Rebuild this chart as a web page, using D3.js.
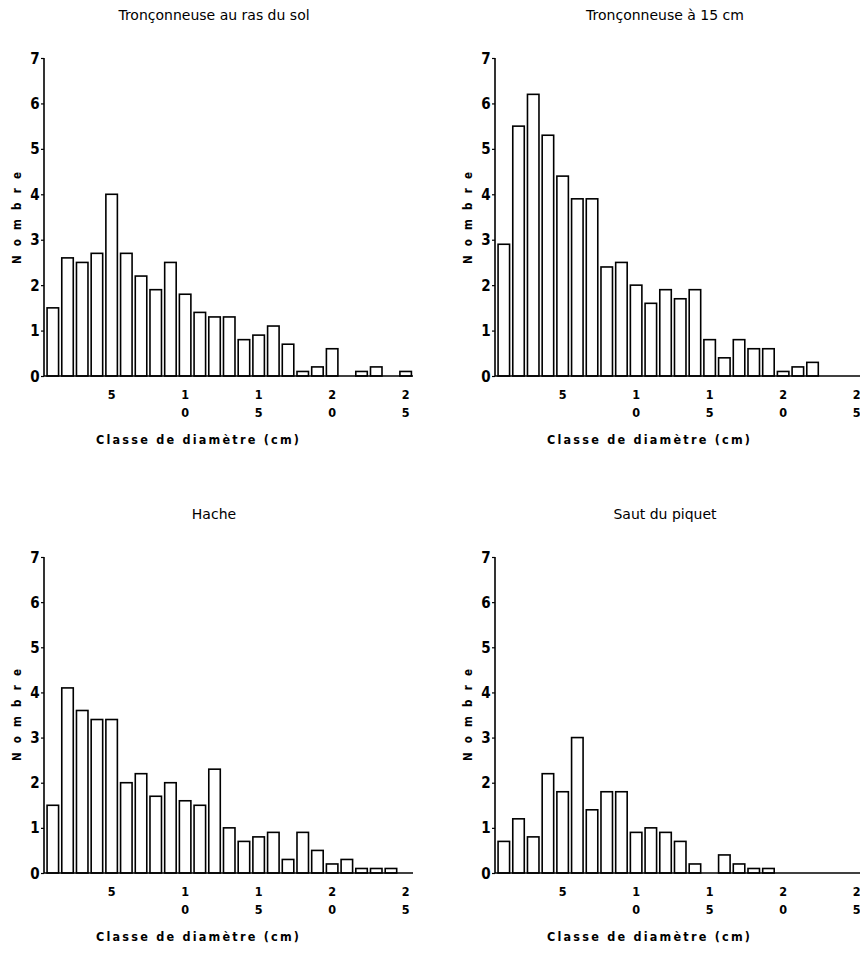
<!DOCTYPE html>
<html>
<head>
<meta charset="utf-8">
<script src="https://cdn.jsdelivr.net/npm/d3@7"></script>
<style>
  body { margin: 0; background: #fff; }
  svg { display: block; }
</style>
</head>
<body>
<div id="chart"></div>
<script>
// diameter classes 1..25 cm
const classes = d3.range(1, 26)

const solValues    = [1.5, 2.6, 2.5, 2.7, 4.0, 2.7, 2.2, 1.9, 2.5, 1.8, 1.4, 1.3, 1.3, 0.8, 0.9, 1.1, 0.7, 0.1, 0.2, 0.6, 0, 0.1, 0.2, 0, 0.1]
const quinzeValues = [2.9, 5.5, 6.2, 5.3, 4.4, 3.9, 3.9, 2.4, 2.5, 2.0, 1.6, 1.9, 1.7, 1.9, 0.8, 0.4, 0.8, 0.6, 0.6, 0.1, 0.2, 0.3, 0, 0, 0]
const hacheValues  = [1.5, 4.1, 3.6, 3.4, 3.4, 2.0, 2.2, 1.7, 2.0, 1.6, 1.5, 2.3, 1.0, 0.7, 0.8, 0.9, 0.3, 0.9, 0.5, 0.2, 0.3, 0.1, 0.1, 0.1, 0]
const piquetValues = [0.7, 1.2, 0.8, 2.2, 1.8, 3.0, 1.4, 1.8, 1.8, 0.9, 1.0, 0.9, 0.7, 0.2, 0, 0.4, 0.2, 0.1, 0.1, 0, 0, 0, 0, 0, 0]

const titles = ["Tronçonneuse au ras du sol", "Tronçonneuse à 15 cm", "Hache", "Saut du piquet"]
const xTicks = [5, 10, 15, 20, 25]
const yTicks = [0, 1, 2, 3, 4, 5, 6, 7]
const xLabel = "Classe de diamètre (cm)"
const yLabel = "Nombre"

const svg = d3.select("#chart")
  .append("svg")
    .attr("width", 860)
    .attr("height", 958)

const panels = [
  {values: solValues,    left: 44,  top: 58,  bottom: 376, title: titles[0]},
  {values: quinzeValues, left: 495, top: 58,  bottom: 376, title: titles[1]},
  {values: hacheValues,  left: 44,  top: 557, bottom: 873, title: titles[2]},
  {values: piquetValues, left: 495, top: 557, bottom: 873, title: titles[3]}
]

const cond = "'DejaVu Sans Condensed', 'DejaVu Sans', sans-serif"

panels.forEach(p => {
  const g = svg.append("g")

  const x = d3.scaleLinear().domain([0.4, 25.5]).range([p.left, p.left + 369])
  const y = d3.scaleLinear().domain([0, 7]).range([p.bottom, p.top])
  const bw = 11.5

  // bars
  g.selectAll("rect")
    .data(classes)
    .enter()
    .append("rect")
      .attr("x", d => x(d) - bw / 2)
      .attr("y", (d, i) => y(p.values[i]))
      .attr("width", bw)
      .attr("height", (d, i) => y(0) - y(p.values[i]))
      .attr("fill", "#fff")
      .attr("stroke", "#000")
      .attr("stroke-width", 1.6)

  // x axis line
  g.append("line")
    .attr("x1", x.range()[0]).attr("x2", x.range()[1])
    .attr("y1", y(0)).attr("y2", y(0))
    .attr("stroke", "#000").attr("stroke-width", 1.5)

  // y axis with half-unit minor ticks
  const yAxis = g.append("g")
    .attr("transform", `translate(${p.left},0)`)
    .call(d3.axisLeft(y).tickValues(d3.range(0.5, 7, 1)).tickSize(2).tickFormat(""))
  yAxis.call(d3.axisLeft(y).tickValues(yTicks).tickSize(3).tickFormat(""))
  yAxis.select(".domain").remove()
  g.append("line")
    .attr("x1", p.left).attr("x2", p.left)
    .attr("y1", y(0)).attr("y2", y(7))
    .attr("stroke", "#000").attr("stroke-width", 1.6)
  g.selectAll(".tick line").attr("stroke", "#000").attr("stroke-width", 1.2)

  g.selectAll("text.ytick")
    .data(yTicks)
    .enter()
    .append("text")
      .attr("class", "ytick")
      .attr("x", p.left - 9)
      .attr("y", d => y(d) + 5.5)
      .attr("text-anchor", "middle")
      .attr("font-family", cond)
      .attr("font-weight", "bold")
      .attr("font-size", 15)
      .text(d => d)

  // x tick labels, one digit per line
  xTicks.forEach(t => {
    const digits = String(t).split("")
    digits.forEach((c, k) => {
      g.append("text")
        .attr("x", x(t))
        .attr("y", y(0) + 23 + k * 18)
        .attr("text-anchor", "middle")
        .attr("font-family", cond)
        .attr("font-weight", "bold")
        .attr("font-size", 12.5)
        .text(c)
    })
  })

  // title
  g.append("text")
    .attr("x", p.left + 170)
    .attr("y", p.top - 38)
    .attr("text-anchor", "middle")
    .attr("font-family", "'DejaVu Sans', sans-serif")
    .attr("font-size", 14)
    .text(p.title)

  // axis labels
  g.append("text")
    .attr("x", p.left + 52)
    .attr("y", y(0) + 68)
    .attr("textLength", 203)
    .attr("lengthAdjust", "spacing")
    .attr("font-family", cond)
    .attr("font-weight", "bold")
    .attr("font-size", 12.5)
    .text(xLabel)

  g.append("text")
    .attr("transform", `translate(${p.left - 23},${y(0) - 112}) rotate(-90)`)
    .attr("textLength", 92)
    .attr("lengthAdjust", "spacing")
    .attr("font-family", cond)
    .attr("font-weight", "bold")
    .attr("font-size", 11.5)
    .text(yLabel)
})
</script>
</body>
</html>
